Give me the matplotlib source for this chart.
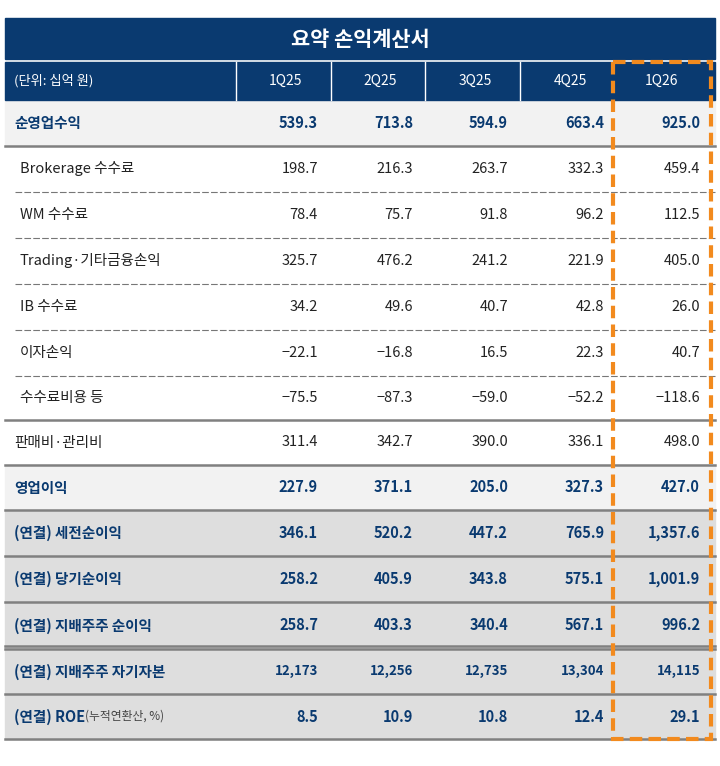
import matplotlib
matplotlib.use("Agg")
import matplotlib.pyplot as plt
from matplotlib.patches import Rectangle

plt.rcParams['font.family'] = ['Noto Sans CJK KR', 'DejaVu Sans']

# 데이터
title = "요약 손익계산서"
unit_label = "(단위: 십억 원)"
quarters = ["1Q25", "2Q25", "3Q25", "4Q25", "1Q26"]
row_labels = ["순영업수익", "Brokerage 수수료", "WM 수수료", "Trading·기타금융손익",
              "IB 수수료", "이자손익", "수수료비용 등", "판매비·관리비", "영업이익",
              "(연결) 세전순이익", "(연결) 당기순이익", "(연결) 지배주주 순이익",
              "(연결) 지배주주 자기자본", "(연결) ROE"]
values = [
    ["539.3", "713.8", "594.9", "663.4", "925.0"],
    ["198.7", "216.3", "263.7", "332.3", "459.4"],
    ["78.4", "75.7", "91.8", "96.2", "112.5"],
    ["325.7", "476.2", "241.2", "221.9", "405.0"],
    ["34.2", "49.6", "40.7", "42.8", "26.0"],
    ["−22.1", "−16.8", "16.5", "22.3", "40.7"],
    ["−75.5", "−87.3", "−59.0", "−52.2", "−118.6"],
    ["311.4", "342.7", "390.0", "336.1", "498.0"],
    ["227.9", "371.1", "205.0", "327.3", "427.0"],
    ["346.1", "520.2", "447.2", "765.9", "1,357.6"],
    ["258.2", "405.9", "343.8", "575.1", "1,001.9"],
    ["258.7", "403.3", "340.4", "567.1", "996.2"],
    ["12,173", "12,256", "12,735", "13,304", "14,115"],
    ["8.5", "10.9", "10.8", "12.4", "29.1"],
]
# 행 스타일: 0=일반, 1=하위항목, 2=강조(연회색), 3=연결(회색)
row_kind = [2, 1, 1, 1, 1, 1, 1, 0, 2, 3, 3, 3, 3, 3]

navy = "#0a3a70"
W, H = 720, 766
fig = plt.figure(figsize=(W / 100, H / 100), dpi=100)
ax = fig.add_axes([0, 0, 1, 1])
ax.set_xlim(0, W)
ax.set_ylim(H, 0)
ax.axis("off")

left, right = 5, 715
ax.add_patch(Rectangle((left, 18), right - left, 41, color=navy))
ax.text(360, 39, title, color="white", fontsize=15, fontweight="bold", ha="center", va="center")

ax.add_patch(Rectangle((left, 62), right - left, 38, color=navy))
col_sep = [236, 331, 425, 520, 615]
col_right = [318, 413, 508, 604, 700]
col_center = [285, 380, 475, 570, 662]
ax.text(14, 81, unit_label, color="white", fontsize=9.5, va="center")
for i, q in enumerate(quarters):
    ax.text(col_center[i], 81, q, color="white", fontsize=10, ha="center", va="center")
for x in col_sep[:4]:
    ax.plot([x, x], [62, 100], color="white", lw=1)

row_top = [100, 146, 192, 238, 284, 330, 376, 420, 465, 510, 556, 602, 649, 694]
row_bot = row_top[1:] + [739]
bg = {0: "white", 1: "white", 2: "#f2f2f2", 3: "#dedede"}
for r, lab in enumerate(row_labels):
    y0, y1 = row_top[r], row_bot[r]
    k = row_kind[r]
    ax.add_patch(Rectangle((left, y0), right - left, y1 - y0, color=bg[k], zorder=0))
    yc = (y0 + y1) / 2
    bold = k in (2, 3)
    color = navy if bold else "#222222"
    fw = "bold" if bold else "normal"
    fs = 10.5 if bold else 10.5
    xl = 20 if k == 1 else 14
    if lab == "(연결) ROE":
        t = ax.text(xl, yc, lab, color=color, fontsize=fs, fontweight=fw, va="center")
        ax.annotate("(누적연환산, %)", xycoords=t, xy=(1, 0.5), va="center",
                    color="#444444", fontsize=8.5)
    else:
        ax.text(xl, yc, lab, color=color, fontsize=fs, fontweight=fw, va="center")
    for i, v in enumerate(values[r]):
        vs = 9.5 if r == 12 else 10.5
        ax.text(col_right[i], yc, v, color=color, fontsize=vs, fontweight=fw,
                ha="right", va="center")
    # 아래쪽 구분선
    if k == 1 and row_kind[r + 1] == 1:
        ax.plot([left + 10, right], [y1, y1], color="#777777", lw=0.8, ls=(0, (6, 2)))
    else:
        ax.plot([left, right], [y1, y1], color="#808080", lw=1.8)
ax.plot([left, right], [646, 646], color="#808080", lw=1.8)

# 1Q26 강조 박스
ax.add_patch(Rectangle((613, 62), 98, 677, fill=False, edgecolor="#f28a1e",
                       lw=3, ls=(0, (3, 1.5)), zorder=5))

fig.savefig("out.png", dpi=100)
